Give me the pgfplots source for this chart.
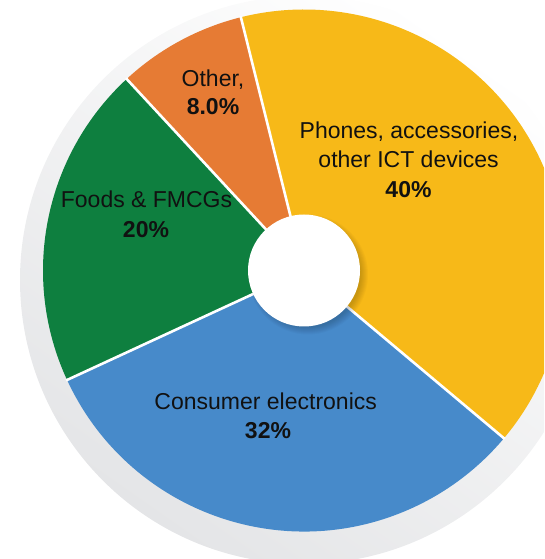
\documentclass[border=0pt]{standalone}
\usepackage{pgfplots}
\pgfplotsset{compat=1.18}
\usepackage{pgfplotstable}
\usepackage{fontspec}
\setmainfont{Liberation Sans}
\definecolor{cyellow}{HTML}{F7B918}
\definecolor{corange}{HTML}{E67B34}
\definecolor{cgreen}{HTML}{0E7F3F}
\definecolor{cblue}{HTML}{478ACA}
\definecolor{ringgray}{HTML}{E4E5E7}
\definecolor{txt}{HTML}{111111}
% share (%), colour; slices run counter-clockwise from -40 degrees
\pgfplotstableread{
label value color
Phones 40 cyellow
Other 8 corange
Foods 20 cgreen
Consumer 32 cblue
}\piedata
\newcommand\sepline[1]{\draw[white, line width=2.6pt] (axis cs:304,288.5) -- ++(#1:262pt);}
\begin{document}
\begin{tikzpicture}
\begin{axis}[name=ax, x=1pt, y=1pt, xmin=0, xmax=544, ymin=0, ymax=559,
  hide axis, clip=true]
% shadow ring
\shade[top color=white, bottom color=ringgray, shading angle=-35] (axis cs:304,279) circle[radius=284pt];
% slices
\def\cum{0}
\gdef\seplist{}
\pgfplotsforeachungrouped \i in {0,1,2,3}{%
  \pgfplotstablegetelem{\i}{value}\of\piedata
  \let\sval=\pgfplotsretval
  \pgfplotstablegetelem{\i}{color}\of\piedata
  \let\scol=\pgfplotsretval
  \pgfmathsetmacro\sa{-40+3.6*\cum}
  \pgfmathsetmacro\sb{-40+3.6*(\cum+\sval)}
  \pgfmathsetmacro\cum{\cum+\sval}
  \edef\temp{\noexpand\fill[\scol] (axis cs:304,288.5) -- ++(\sa:261pt) arc[start angle=\sa, end angle=\sb, radius=261pt] -- cycle;}%
  \temp
  \xdef\seplist{\unexpanded\expandafter{\seplist}\noexpand\sepline{\sa}}%
}
\seplist
% hole with soft shadow
\pgfplotsforeachungrouped \k in {1,2,3,4,5,6,7,8}{%
  \edef\temp{\noexpand\fill[black, opacity=0.025] (axis cs:308,284.5) circle[radius=\k pt+52pt];}%
  \temp
}
\fill[white] (axis cs:304,288.5) circle[radius=56pt];
% labels
\begin{scope}[every node/.style={anchor=base, text=txt, inner sep=0pt, font=\fontsize{23}{27}\selectfont}]
\node at (axis cs:213,472.3) {Other,};
\node[font=\fontsize{23}{27}\selectfont\bfseries] at (axis cs:213,444.5) {8.0\%};
\node at (axis cs:409,420) {Phones, accessories,};
\node at (axis cs:408.6,391) {other ICT devices};
\node[font=\fontsize{23}{27}\selectfont\bfseries] at (axis cs:408.5,361) {40\%};
\node at (axis cs:146.5,351) {Foods \& FMCGs};
\node[font=\fontsize{23}{27}\selectfont\bfseries] at (axis cs:146,321.3) {20\%};
\node at (axis cs:265.7,149.6) {Consumer electronics};
\node[font=\fontsize{23}{27}\selectfont\bfseries] at (axis cs:268,120) {32\%};
\end{scope}
\end{axis}
\pgfresetboundingbox
\path (ax.south west) rectangle (ax.north east);
\end{tikzpicture}
\end{document}
